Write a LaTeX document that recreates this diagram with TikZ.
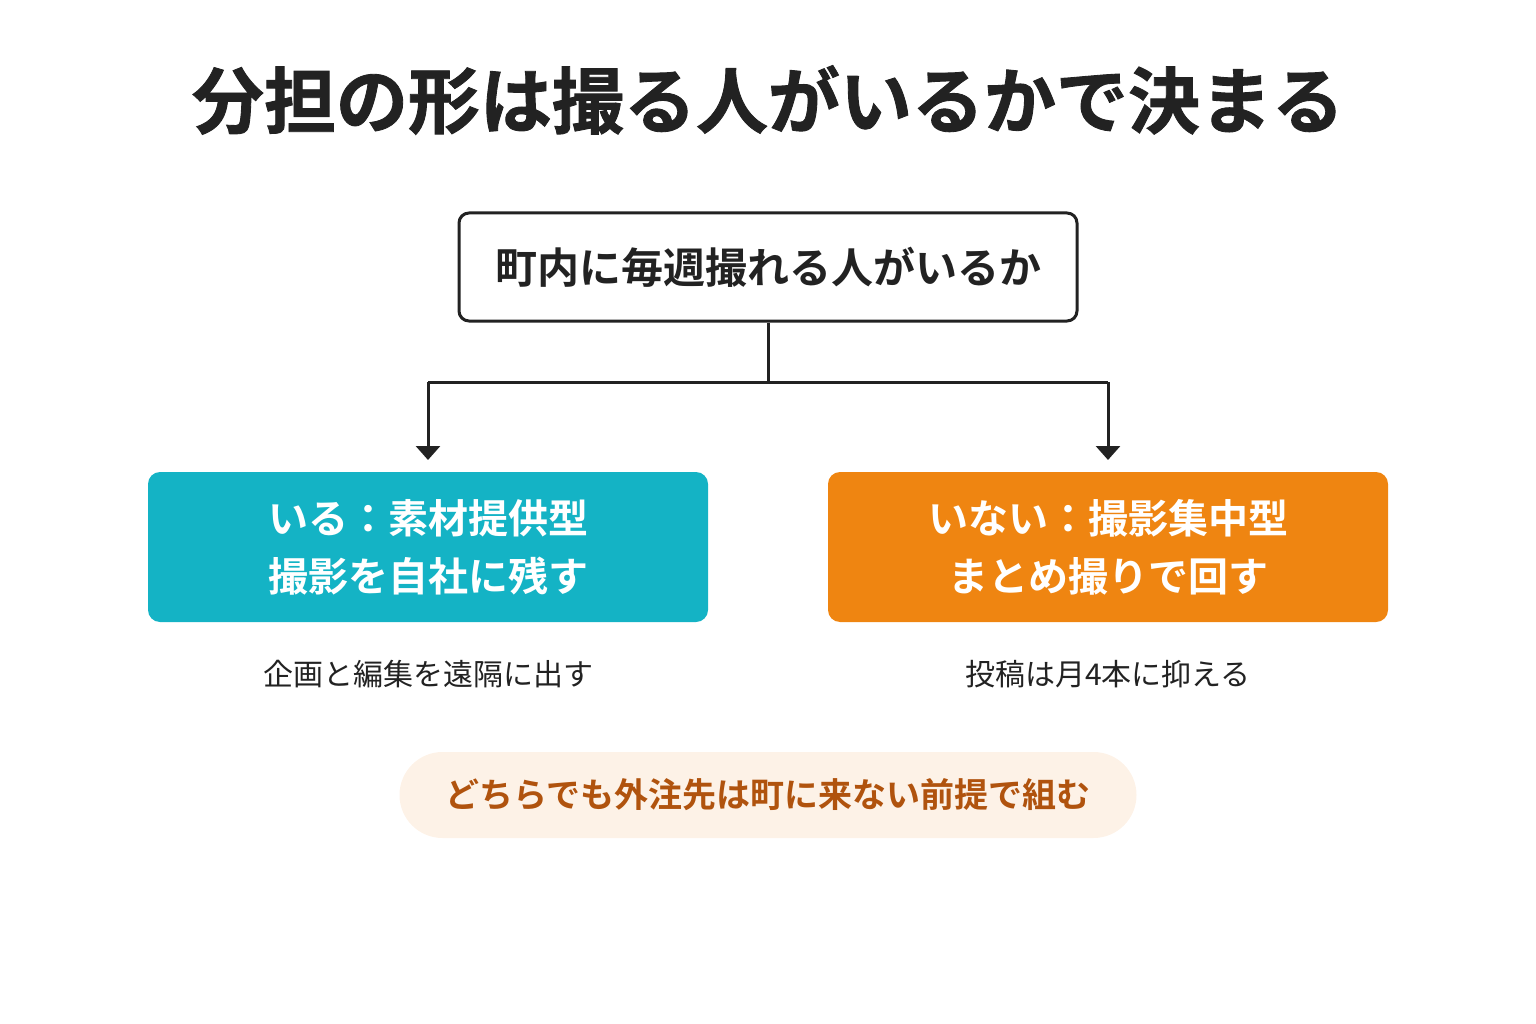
\documentclass[tikz,border=0pt]{standalone}
\usepackage{fontspec}
\setmainfont{Noto Sans CJK JP}[BoldFont={Noto Sans CJK JP Bold}]
\newfontfamily\heavyfont{Noto Sans CJK JP Bold}[FakeBold=1.2]
\usetikzlibrary{arrows.meta}
\definecolor{ink}{HTML}{222222}
\definecolor{teal}{HTML}{14B3C5}
\definecolor{orng}{HTML}{EF8511}
\definecolor{pillbg}{HTML}{FDF2E7}
\definecolor{pilltx}{HTML}{B0530E}
\tikzset{
  qbox/.style={draw=ink, line width=3pt, rounded corners=10pt, fill=white, minimum width=618pt, minimum height=108pt, inner sep=0pt, font=\fontsize{42}{48}\selectfont\bfseries, text=ink},
  cbox/.style={rounded corners=12pt, minimum width=560pt, minimum height=150pt, inner sep=0pt, font=\fontsize{40}{58}\selectfont\bfseries, text=white, align=center},
  capt/.style={font=\fontsize{30}{34}\selectfont, text=ink},
  conn/.style={draw=ink, line width=3pt},
  arr/.style={conn, -{Triangle[width=24pt,length=14pt]}},
}
\begin{document}
\begin{tikzpicture}[x=1pt,y=-1pt]
\useasboundingbox (0,0) rectangle (1536,1024);
\node[font=\fontsize{72}{78}\selectfont\heavyfont, text=ink] (title) at (768,100) {分担の形は撮る人がいるかで決まる};
\node[qbox] (q) at (768,267) {町内に毎週撮れる人がいるか};
\node[cbox, fill=teal] (yes) at (428,547) {いる：素材提供型\\撮影を自社に残す};
\node[cbox, fill=orng] (no) at (1108,547) {いない：撮影集中型\\まとめ撮りで回す};
\node[capt] (yc) at (428,674) {企画と編集を遠隔に出す};
\node[capt] (nc) at (1108,674) {投稿は月4本に抑える};
\node[fill=pillbg, rounded corners=43pt, minimum width=737pt, minimum height=86pt, inner sep=0pt, font=\fontsize{34}{38}\selectfont\bfseries, text=pilltx] (pill) at (768,795) {どちらでも外注先は町に来ない前提で組む};
\coordinate (j) at (768,382);
\coordinate (jl) at (428,382);
\coordinate (jr) at (1108,382);
\coordinate (tl) at (428,460);
\coordinate (tr) at (1108,460);
\draw[conn] (q.south) -- (j);
\draw[conn] (jl) -- (jr);
\draw[arr] (jl) -- (tl);
\draw[arr] (jr) -- (tr);
\end{tikzpicture}
\end{document}
